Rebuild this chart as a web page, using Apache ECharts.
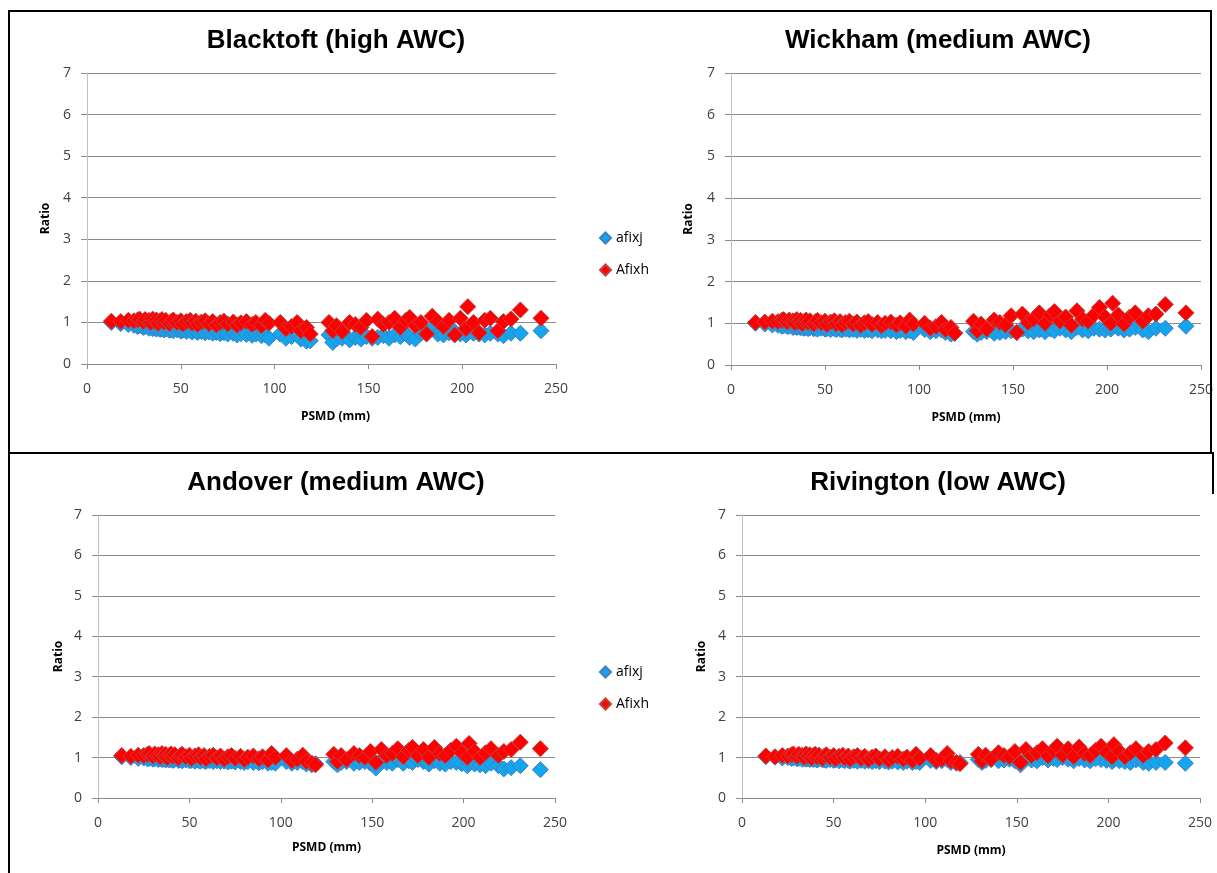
<!DOCTYPE html>
<html>
<head>
<meta charset="utf-8">
<script src="https://cdn.jsdelivr.net/npm/echarts@6/dist/echarts.min.js"></script>
<style>
  html, body { margin: 0; padding: 0; background: #ffffff; }
  #chart { width: 1217px; height: 873px; }
</style>
</head>
<body>
<div id="chart"></div>
<script>
// PSMD (mm) shared by all four sites
const psmd = [
  13, 18, 22, 25, 27, 28, 30, 31, 33, 34,
  35, 36, 37, 38, 39, 40, 41, 42, 44, 45,
  46, 48, 50, 51, 53, 55, 56, 58, 59, 61,
  63, 65, 67, 69, 71, 73, 75, 78, 80, 82,
  85, 88, 90, 93, 95, 97, 103, 106, 109, 112,
  114, 117, 119, 129, 131, 133, 136, 140, 143, 146,
  149, 152, 155, 158, 161, 164, 167, 170, 172, 175,
  178, 181, 184, 187, 190, 193, 196, 199, 202, 203,
  206, 209, 212, 215, 219, 222, 226, 231, 242
];

const blacktoftAfixj = [
  1.00, 0.97, 0.95, 0.93, 0.90, 0.92, 0.88, 0.90, 0.86, 0.88,
  0.85, 0.87, 0.84, 0.86, 0.83, 0.85, 0.82, 0.84, 0.81, 0.83,
  0.80, 0.82, 0.79, 0.81, 0.78, 0.80, 0.77, 0.79, 0.76, 0.78,
  0.75, 0.77, 0.74, 0.76, 0.73, 0.75, 0.72, 0.74, 0.70, 0.73,
  0.71, 0.69, 0.72, 0.68, 0.70, 0.62, 0.72, 0.62, 0.66, 0.70,
  0.60, 0.55, 0.56, 0.70, 0.52, 0.60, 0.62, 0.58, 0.64, 0.60,
  0.66, 0.62, 0.64, 0.68, 0.62, 0.70, 0.66, 0.72, 0.64, 0.60,
  0.74, 0.78, 0.85, 0.72, 0.70, 0.75, 0.78, 0.72, 0.70, 0.76,
  0.74, 0.72, 0.70, 0.74, 0.72, 0.68, 0.74, 0.74, 0.80
];
const blacktoftAfixh = [
  1.03, 1.02, 1.05, 1.04, 1.06, 1.08, 1.02, 1.07, 1.05, 1.00,
  1.08, 1.03, 1.06, 0.98, 1.04, 1.07, 1.01, 1.05, 0.97, 1.03,
  1.06, 1.00, 1.04, 0.96, 1.02, 1.05, 0.98, 1.03, 0.95, 1.01,
  1.04, 0.97, 1.02, 0.94, 1.00, 1.03, 0.96, 1.01, 0.93, 0.99,
  1.02, 0.95, 1.00, 0.92, 1.05, 0.98, 1.00, 0.85, 0.90, 1.00,
  0.80, 0.88, 0.72, 1.00, 0.80, 0.92, 0.78, 1.00, 0.95, 0.88,
  1.05, 0.66, 1.08, 0.95, 1.00, 1.10, 0.88, 1.05, 1.12, 0.92,
  1.00, 0.72, 1.15, 1.02, 0.90, 1.05, 0.70, 1.10, 0.85, 1.38,
  1.00, 0.75, 1.05, 1.10, 0.80, 1.02, 1.08, 1.30, 1.10
];

const wickhamAfixj = [
  1.00, 0.98, 0.96, 0.95, 0.93, 0.94, 0.92, 0.93, 0.90, 0.92,
  0.90, 0.91, 0.89, 0.90, 0.88, 0.90, 0.87, 0.89, 0.87, 0.88,
  0.86, 0.88, 0.86, 0.87, 0.85, 0.87, 0.85, 0.86, 0.84, 0.86,
  0.84, 0.85, 0.83, 0.85, 0.83, 0.84, 0.82, 0.84, 0.82, 0.83,
  0.82, 0.80, 0.83, 0.80, 0.82, 0.78, 0.85, 0.80, 0.82, 0.84,
  0.78, 0.74, 0.76, 0.80, 0.74, 0.78, 0.80, 0.76, 0.78, 0.80,
  0.82, 0.78, 0.86, 0.82, 0.80, 0.84, 0.80, 0.86, 0.82, 0.88,
  0.84, 0.80, 0.90, 0.84, 0.82, 0.88, 0.86, 0.84, 0.86, 0.90,
  0.88, 0.84, 0.86, 0.90, 0.84, 0.80, 0.88, 0.88, 0.93
];
const wickhamAfixh = [
  1.02, 1.03, 1.05, 1.04, 1.07, 1.09, 1.03, 1.08, 1.06, 1.01,
  1.09, 1.04, 1.07, 0.99, 1.05, 1.08, 1.02, 1.06, 0.98, 1.04,
  1.07, 1.01, 1.05, 0.97, 1.03, 1.06, 0.99, 1.04, 0.96, 1.02,
  1.05, 0.98, 1.03, 0.95, 1.01, 1.04, 0.97, 1.02, 0.94, 1.00,
  1.03, 0.96, 1.01, 0.93, 1.08, 0.98, 1.00, 0.88, 0.92, 1.02,
  0.85, 0.90, 0.76, 1.05, 0.82, 0.98, 0.86, 1.08, 1.02, 0.96,
  1.18, 0.78, 1.22, 1.02, 1.10, 1.25, 1.00, 1.20, 1.28, 1.05,
  1.15, 0.95, 1.30, 1.10, 1.05, 1.20, 1.38, 1.15, 1.00, 1.48,
  1.20, 0.98, 1.15, 1.25, 1.05, 1.18, 1.22, 1.45, 1.25
];

const andoverAfixj = [
  1.02, 1.00, 0.98, 0.99, 0.97, 0.98, 0.96, 0.97, 0.95, 0.97,
  0.95, 0.96, 0.94, 0.96, 0.94, 0.95, 0.93, 0.95, 0.93, 0.94,
  0.92, 0.94, 0.92, 0.93, 0.91, 0.93, 0.91, 0.92, 0.90, 0.92,
  0.90, 0.92, 0.90, 0.91, 0.89, 0.91, 0.89, 0.90, 0.88, 0.90,
  0.88, 0.87, 0.90, 0.86, 0.88, 0.86, 0.90, 0.86, 0.88, 0.90,
  0.84, 0.82, 0.85, 0.90, 0.82, 0.88, 0.90, 0.86, 0.88, 0.90,
  0.86, 0.74, 0.92, 0.88, 0.86, 0.95, 0.86, 0.92, 0.88, 0.95,
  0.90, 0.84, 0.92, 0.86, 0.84, 0.90, 0.88, 0.85, 0.80, 0.88,
  0.84, 0.82, 0.80, 0.86, 0.80, 0.72, 0.75, 0.80, 0.70
];
const andoverAfixh = [
  1.05, 1.03, 1.06, 1.05, 1.08, 1.10, 1.04, 1.09, 1.07, 1.02,
  1.10, 1.05, 1.08, 1.00, 1.06, 1.09, 1.03, 1.07, 0.99, 1.05,
  1.08, 1.02, 1.06, 0.98, 1.04, 1.07, 1.00, 1.05, 0.97, 1.03,
  1.06, 0.99, 1.04, 0.96, 1.02, 1.05, 0.98, 1.03, 0.95, 1.01,
  1.04, 0.97, 1.02, 0.94, 1.10, 1.00, 1.05, 0.92, 0.96, 1.06,
  0.90, 0.86, 0.82, 1.08, 0.90, 1.05, 0.95, 1.10, 1.05, 1.00,
  1.15, 0.88, 1.20, 1.05, 1.10, 1.22, 1.02, 1.18, 1.25, 1.05,
  1.20, 1.00, 1.25, 1.10, 1.05, 1.18, 1.28, 1.12, 1.00, 1.35,
  1.15, 1.00, 1.12, 1.22, 1.05, 1.15, 1.20, 1.38, 1.22
];

const rivingtonAfixj = [
  1.02, 1.01, 0.99, 1.00, 0.98, 0.99, 0.97, 0.98, 0.96, 0.98,
  0.96, 0.97, 0.95, 0.97, 0.95, 0.96, 0.94, 0.96, 0.94, 0.95,
  0.93, 0.95, 0.93, 0.94, 0.92, 0.94, 0.92, 0.93, 0.91, 0.93,
  0.91, 0.93, 0.91, 0.92, 0.90, 0.92, 0.90, 0.91, 0.89, 0.91,
  0.89, 0.88, 0.91, 0.88, 0.90, 0.88, 0.93, 0.90, 0.92, 0.95,
  0.88, 0.86, 0.88, 0.95, 0.88, 0.93, 0.95, 0.92, 0.94, 0.96,
  0.92, 0.82, 0.98, 0.94, 0.92, 1.00, 0.94, 0.98, 0.95, 1.00,
  0.96, 0.92, 0.98, 0.94, 0.92, 0.97, 0.95, 0.93, 0.90, 0.96,
  0.92, 0.90, 0.88, 0.94, 0.88, 0.86, 0.88, 0.88, 0.86
];
const rivingtonAfixh = [
  1.04, 1.02, 1.05, 1.04, 1.07, 1.09, 1.03, 1.08, 1.06, 1.01,
  1.09, 1.04, 1.07, 0.99, 1.05, 1.08, 1.02, 1.06, 0.98, 1.04,
  1.07, 1.01, 1.05, 0.97, 1.03, 1.06, 0.99, 1.04, 0.96, 1.02,
  1.05, 0.98, 1.03, 0.95, 1.01, 1.04, 0.97, 1.02, 0.94, 1.00,
  1.03, 0.96, 1.01, 0.93, 1.08, 0.98, 1.05, 0.93, 0.96, 1.10,
  0.92, 0.88, 0.85, 1.08, 0.92, 1.06, 0.96, 1.12, 1.05, 1.02,
  1.15, 0.88, 1.20, 1.05, 1.12, 1.22, 1.04, 1.18, 1.28, 1.06,
  1.22, 1.02, 1.26, 1.10, 1.05, 1.18, 1.28, 1.12, 1.02, 1.32,
  1.15, 1.02, 1.12, 1.22, 1.05, 1.15, 1.20, 1.36, 1.24
];

const siteTitles = ['Blacktoft (high AWC)', 'Wickham (medium AWC)', 'Andover (medium AWC)', 'Rivington (low AWC)'];
const seriesNames = ['afixj', 'Afixh'];
const ratioTicks = [0, 1, 2, 3, 4, 5, 6, 7];
const psmdTicks = [0, 50, 100, 150, 200, 250];

const siteData = [
  [blacktoftAfixj, blacktoftAfixh],
  [wickhamAfixj, wickhamAfixh],
  [andoverAfixj, andoverAfixh],
  [rivingtonAfixj, rivingtonAfixh]
];

// Plot areas of the 2x2 panel layout
const panelBoxes = [
  { left: 87,  top: 73,  width: 469, height: 291, titleX: 331, titleY: 23,  nameGapY: 35, nameGapX: 47, nameShift: 28 },
  { left: 731, top: 73,  width: 470, height: 292, titleX: 933, titleY: 23,  nameGapY: 36, nameGapX: 47, nameShift: 0 },
  { left: 98,  top: 515, width: 457, height: 283, titleX: 331, titleY: 465, nameGapY: 33, nameGapX: 44, nameShift: 0 },
  { left: 742, top: 515, width: 458, height: 283, titleX: 933, titleY: 465, nameGapY: 34, nameGapX: 47, nameShift: 0 }
];

const tickFont = 'Open Sans, Noto Sans, sans-serif';
const markerStyles = [
  { color: '#14a6ec', borderColor: '#3f7ec6', borderWidth: 1, opacity: 1 },
  { color: '#ff0000', borderColor: '#c0403e', borderWidth: 1, opacity: 1 }
];

const grids = [], xAxes = [], yAxes = [], titles = [], series = [];

panelBoxes.forEach((b, i) => {
  grids.push({ left: b.left, top: b.top, width: b.width, height: b.height, containLabel: false });
  titles.push({
    text: siteTitles[i], left: b.titleX, top: b.titleY, textAlign: 'center',
    textStyle: { fontFamily: 'Liberation Sans, Arial, sans-serif', fontWeight: 'bold', fontSize: 26, color: '#000' }
  });
  xAxes.push({
    gridIndex: i, type: 'value', min: psmdTicks[0], max: psmdTicks[psmdTicks.length - 1],
    interval: psmdTicks[1] - psmdTicks[0],
    name: 'PSMD (mm)', nameLocation: 'middle', nameGap: b.nameGapX,
    nameTextStyle: { fontFamily: tickFont, fontWeight: 'bold', fontSize: 12, color: '#000', padding: [0, 0, 0, b.nameShift] },
    axisLine: { show: true, lineStyle: { color: '#8c8c8c', width: 1 } },
    axisTick: { show: true, inside: false, length: 5, lineStyle: { color: '#8c8c8c' } },
    axisLabel: { fontFamily: tickFont, fontSize: 14, color: '#404040', margin: 18 },
    splitLine: { show: false }
  });
  yAxes.push({
    gridIndex: i, type: 'value', min: ratioTicks[0], max: ratioTicks[ratioTicks.length - 1],
    interval: ratioTicks[1] - ratioTicks[0],
    name: 'Ratio', nameLocation: 'middle', nameGap: b.nameGapY,
    nameTextStyle: { fontFamily: tickFont, fontWeight: 'bold', fontSize: 12, color: '#000' },
    axisLine: { show: true, lineStyle: { color: '#bfbfbf', width: 1 } },
    axisTick: { show: true, inside: false, length: 6, lineStyle: { color: '#8c8c8c' } },
    axisLabel: { fontFamily: tickFont, fontSize: 14, color: '#404040', margin: 16 },
    splitLine: { show: true, lineStyle: { color: '#8c8c8c', width: 1 } }
  });
  siteData[i].forEach((vals, s) => {
    series.push({
      name: seriesNames[s], type: 'scatter', xAxisIndex: i, yAxisIndex: i,
      symbol: 'diamond', symbolSize: 16,
      itemStyle: markerStyles[s],
      data: psmd.map((x, k) => [x, vals[k]]),
      z: 2 + s
    });
  });
});

const legendBase = {
  data: seriesNames, orient: 'vertical', icon: 'diamond',
  itemWidth: 11, itemHeight: 11, itemGap: 18,
  textStyle: { fontFamily: tickFont, fontSize: 14, color: '#000' }
};

// Frame lines around the panel arrangement
const frame = [
  [8, 11, 1212, 11], [9, 10, 9, 873], [1211, 10, 1211, 453],
  [8, 453, 1213, 453], [1213, 452, 1213, 494]
].map(([x1, y1, x2, y2]) => ({
  type: 'line', shape: { x1, y1, x2, y2 },
  style: { stroke: '#000', lineWidth: 2 }, silent: true, z: 100
}));

const chart = echarts.init(document.getElementById('chart'), null, { renderer: 'canvas' });
chart.setOption({
  backgroundColor: '#ffffff',
  animation: false,
  title: titles,
  legend: [
    Object.assign({}, legendBase, { left: 594, top: 226 }),
    Object.assign({}, legendBase, { left: 594, top: 660 })
  ],
  grid: grids,
  xAxis: xAxes,
  yAxis: yAxes,
  series: series,
  graphic: frame
});
</script>
</body>
</html>
